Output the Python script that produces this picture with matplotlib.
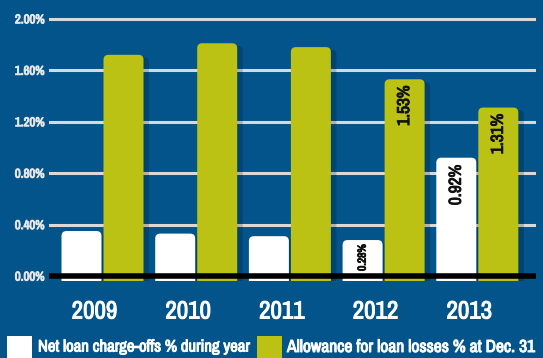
import matplotlib
matplotlib.use("Agg")
import matplotlib.pyplot as plt
import matplotlib.patheffects as pe
from matplotlib import font_manager
from matplotlib.patches import FancyBboxPatch, Rectangle

years = ["2009", "2010", "2011", "2012", "2013"]
charge_offs = [0.35, 0.33, 0.31, 0.28, 0.92]
allowance = [1.72, 1.81, 1.78, 1.53, 1.31]
charge_labels = [None, None, None, "0.28%", "0.92%"]
allow_labels = [None, None, None, "1.53%", "1.31%"]
yticks = [0.0, 0.4, 0.8, 1.2, 1.6, 2.0]
legend_names = ["Net loan charge-offs % during year", "Allowance for loan losses % at Dec. 31"]

BG = "#02548b"
GREEN = "#bcc214"
WHITE = "#ffffff"
GRID = "#d9d9d9"

# look for a narrow sans font (prefer "Narrow"), otherwise Liberation Sans
cands = [f for f in font_manager.fontManager.ttflist
         if ("narrow" in f.name.lower() or "condensed" in f.name.lower()
             or "condensed" in str(f.stretch)) and "mono" not in f.name.lower()
         and "serif" not in f.name.lower()]
cands.sort(key=lambda f: 0 if "narrow" in f.name.lower() else 1)
if cands:
    FONT = [cands[0].name, "Liberation Sans"]
    STRETCH = cands[0].stretch
    has_bold = any(f.name == cands[0].name and f.weight in ("bold", 700, 600, "semibold")
                   for f in cands)
else:
    FONT = ["Liberation Sans", "DejaVu Sans"]
    STRETCH = "normal"
    has_bold = True


def fx(color):
    # thicken strokes when no bold face of the narrow font is installed
    if has_bold:
        return []
    return [pe.withStroke(linewidth=0.7, foreground=color)]


W, H = 543, 358
fig = plt.figure(figsize=(W / 100, H / 100), dpi=100, facecolor=BG)

# axes in pixel units
left, right, top, zero_px = 49, 536, 0, 276
ylo = -0.035
ytop = 2.0 + 19 / 130
ypx = 130.0  # pixels per 1%
bottom_px = zero_px + (-ylo) * ypx
ax = fig.add_axes([left / W, 1 - bottom_px / H, (right - left) / W, (bottom_px - top) / H])
ax.set_facecolor(BG)
for s in ax.spines.values():
    s.set_visible(False)

xpx = 93.7
c0 = 102.5
ax.set_xlim(-(c0 - left) / xpx, (right - c0) / xpx)
ax.set_ylim(ylo, ytop)

for t in yticks[1:]:
    ax.axhline(t, color=GRID, lw=2.2, zorder=1)

bw = 40 / xpx
off = 21 / xpx
aspect = (1 / ypx) / (1 / xpx)
shadow = [pe.SimplePatchShadow(offset=(4, -2), shadow_rgbFace="black", alpha=0.18), pe.Normal()]


def rbar(x, h, color):
    p = FancyBboxPatch((x - bw / 2, -0.3), bw, h + 0.3,
                       boxstyle="round,pad=0,rounding_size=%f" % (5 / xpx),
                       mutation_aspect=aspect, fc=color, ec="none", zorder=3)
    p.set_path_effects(shadow)
    ax.add_patch(p)


txt = dict(family=FONT, fontstretch=STRETCH, fontweight="bold")
DARK = "#111111"

for i in range(len(years)):
    rbar(i - off, charge_offs[i], WHITE)
    rbar(i + off, allowance[i], GREEN)
    if charge_labels[i]:
        small = charge_offs[i] < 0.5
        ax.text(i - off, charge_offs[i] - (4 if small else 7) / ypx, charge_labels[i],
                rotation=90, ha="center", va="top", fontsize=8.3 if small else 12.5,
                color=DARK, zorder=5, path_effects=fx(DARK), **txt)
    if allow_labels[i]:
        ax.text(i + off, allowance[i] - 6 / ypx, allow_labels[i], rotation=90,
                ha="center", va="top", fontsize=12.5, color=DARK, zorder=5,
                path_effects=fx(DARK), **txt)

ax.axhline(0, color="black", lw=4, zorder=4)

ax.set_yticks(yticks)
ax.set_yticklabels(["%.2f%%" % t for t in yticks], fontsize=9.2, color="#e6e6e6", **txt)
for lab in ax.get_yticklabels():
    lab.set_path_effects(fx("#e6e6e6"))
ax.tick_params(axis="y", length=0, pad=3)
ax.set_xticks([])

for i, y in enumerate(years):
    fig.text((c0 + i * xpx - 8) / W, 1 - 311 / H, y, ha="center", va="center",
             fontsize=18, color=WHITE, path_effects=fx(WHITE), **txt)

# legend
fig.patches.append(Rectangle((7 / W, 0), 25 / W, 22 / H, transform=fig.transFigure,
                             fc=WHITE, ec="none"))
fig.text(38 / W, 1 - 347 / H, legend_names[0], ha="left", va="center",
         fontsize=12.0, color=WHITE, path_effects=fx(WHITE), **txt)
fig.patches.append(Rectangle((257 / W, 0), 25 / W, 22 / H, transform=fig.transFigure,
                             fc=GREEN, ec="none"))
fig.text(287 / W, 1 - 347 / H, legend_names[1], ha="left", va="center",
         fontsize=12.6, color=WHITE, path_effects=fx(WHITE), **txt)

fig.savefig("out.png", dpi=100, facecolor=BG)
